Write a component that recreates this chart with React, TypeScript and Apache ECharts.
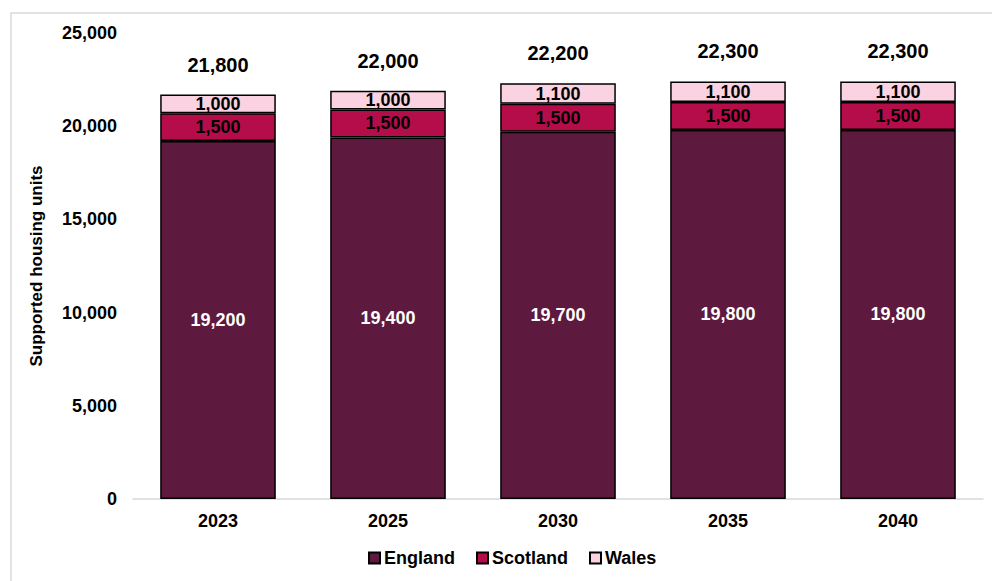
import React, { useEffect, useRef } from "react";
import * as echarts from "echarts";

const years = ["2023", "2025", "2030", "2035", "2040"];
const england = [19200, 19400, 19700, 19800, 19800];
const scotland = [1500, 1500, 1500, 1500, 1500];
const wales = [1000, 1000, 1100, 1100, 1100];
const totals = [21800, 22000, 22200, 22300, 22300];

const FONT = "'Liberation Sans', Arial, sans-serif";
const fmt = (v: number) => v.toLocaleString("en-GB");

export default function App() {
  const ref = useRef<HTMLDivElement>(null);
  useEffect(() => {
    if (!ref.current) return;
    const chart = echarts.init(ref.current, null, { renderer: "svg" });
    const segLabel = (color: string) => ({
      show: true,
      position: "inside" as const,
      color,
      fontFamily: FONT,
      fontWeight: "bold" as const,
      fontSize: 18,
      formatter: (p: any) => fmt(p.value),
    });
    chart.setOption({
      animation: false,
      textStyle: { fontFamily: FONT },
      graphic: [
        {
          type: "rect",
          shape: { x: 11, y: 13, width: 1000, height: 600 },
          style: { fill: "none", stroke: "#D9D9D9", lineWidth: 1.5 },
          silent: true,
          z: -1,
        },
      ],
      grid: { left: 133, right: 9, top: 33, bottom: 82, containLabel: false },
      legend: {
        top: 549,
        left: 368,
        padding: 0,
        itemWidth: 11,
        itemHeight: 11,
        itemGap: 21,
        icon: "rect",
        textStyle: { fontFamily: FONT, fontWeight: "bold", fontSize: 18, color: "#000", padding: [0, 0, 0, -1] },
        data: ["England", "Scotland", "Wales"],
      },
      xAxis: {
        type: "category",
        data: years,
        axisLine: { lineStyle: { color: "#D9D9D9", width: 1.5 } },
        axisTick: { show: false },
        axisLabel: { color: "#000", fontWeight: "bold", fontSize: 18, margin: 13, fontFamily: FONT },
      },
      yAxis: {
        type: "value",
        min: 0,
        max: 25000,
        interval: 5000,
        name: "Supported housing units",
        nameLocation: "middle",
        nameGap: 88,
        nameTextStyle: { color: "#000", fontWeight: "bold", fontSize: 17, fontFamily: FONT },
        splitLine: { show: false },
        axisLine: { show: false },
        axisTick: { show: false },
        axisLabel: {
          color: "#000",
          fontWeight: "bold",
          fontSize: 18,
          margin: 16,
          fontFamily: FONT,
          formatter: (v: number) => fmt(v),
        },
      },
      series: [
        {
          name: "England",
          type: "bar",
          stack: "total",
          barWidth: "68%",
          data: england,
          itemStyle: { color: "#5E1A3E", borderColor: "#000", borderWidth: 1.5 },
          label: segLabel("#FFFFFF"),
        },
        {
          name: "Scotland",
          type: "bar",
          stack: "total",
          data: scotland,
          itemStyle: { color: "#B50D4A", borderColor: "#000", borderWidth: 1.5 },
          label: segLabel("#000"),
        },
        {
          name: "Wales",
          type: "bar",
          stack: "total",
          data: wales,
          itemStyle: { color: "#FAD2E1", borderColor: "#000", borderWidth: 1.5 },
          label: segLabel("#000"),
        },
        {
          name: "Total",
          type: "bar",
          stack: "total",
          data: totals.map(() => 0),
          itemStyle: { color: "transparent" },
          label: {
            show: true,
            position: "top",
            distance: 20,
            color: "#000",
            fontFamily: FONT,
            fontWeight: "bold",
            fontSize: 20,
            formatter: (p: any) => fmt(totals[p.dataIndex]),
          },
        },
      ],
    });
    return () => chart.dispose();
  }, []);
  return (
    <div
      ref={ref}
      style={{ position: "fixed", left: 0, top: 0, width: 992, height: 581, background: "#fff" }}
    />
  );
}
